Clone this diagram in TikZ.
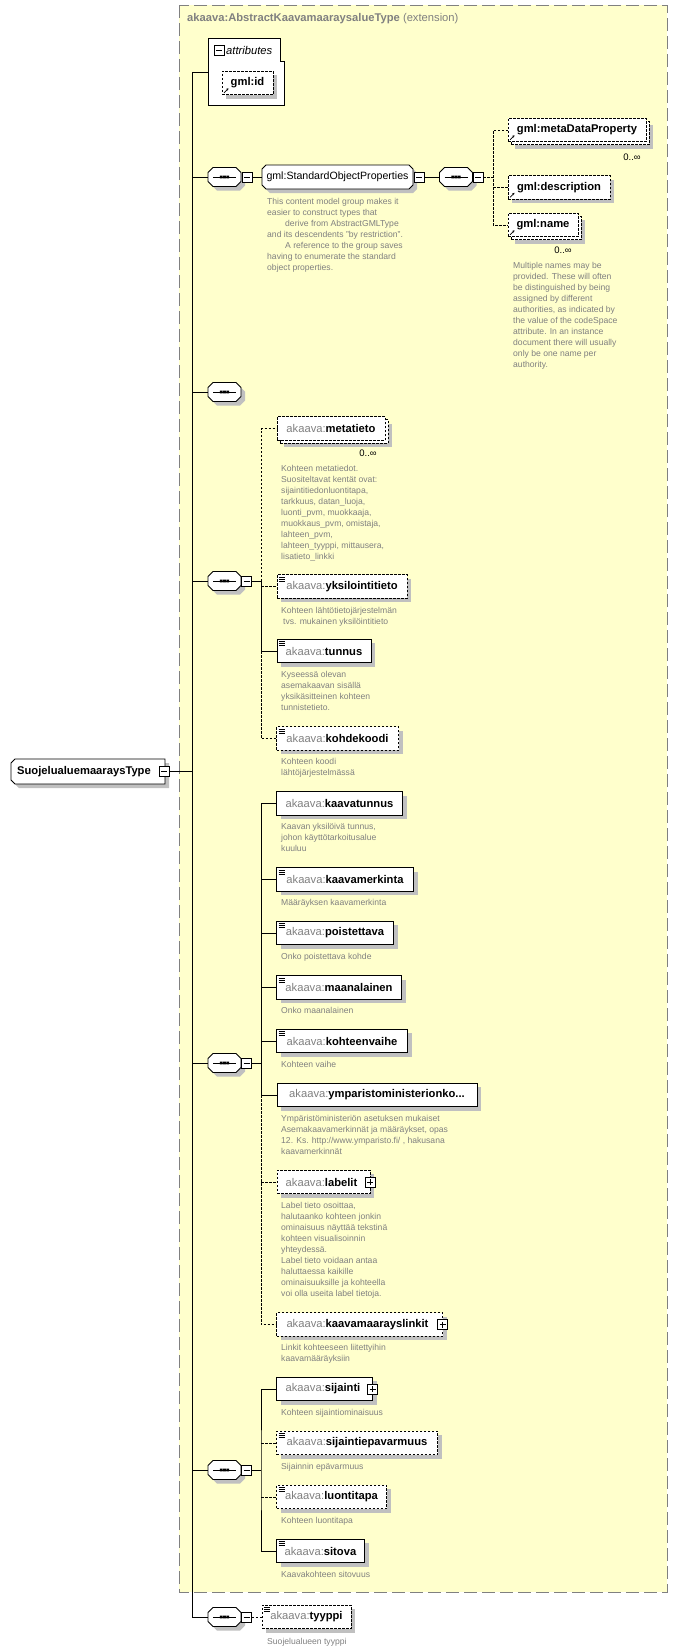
\documentclass[tikz,border=0pt]{standalone}
\usepackage{fontspec}
\setmainfont{Liberation Sans}
\usetikzlibrary{shadows,arrows.meta}

\definecolor{extfill}{RGB}{255,255,204}
\definecolor{extline}{RGB}{128,128,128}
\definecolor{shgray}{RGB}{192,192,192}
\definecolor{pfxgray}{RGB}{128,128,128}
\definecolor{notegray}{RGB}{128,128,128}

\newcommand{\namefont}{\fontsize{11.2}{13}\selectfont}
\newcommand{\notefont}{\fontsize{8.6}{11}\selectfont}
\newcommand{\ak}[1]{\textcolor{pfxgray}{akaava:}\textbf{#1}}

% box with cut corners (left and right cut set apart)
\makeatletter
\newdimen\octL \newdimen\octR \newdimen\octB \newdimen\octT \newdimen\octcl \newdimen\octcr
\pgfkeys{/pgf/oct cut left/.initial=5pt, /pgf/oct cut right/.initial=5pt}
\pgfdeclareshape{octbox}{
  \inheritsavedanchors[from=rectangle]
  \inheritanchorborder[from=rectangle]
  \inheritanchor[from=rectangle]{center}
  \inheritanchor[from=rectangle]{north}
  \inheritanchor[from=rectangle]{south}
  \inheritanchor[from=rectangle]{west}
  \inheritanchor[from=rectangle]{east}
  \inheritanchor[from=rectangle]{north west}
  \inheritanchor[from=rectangle]{north east}
  \inheritanchor[from=rectangle]{south west}
  \inheritanchor[from=rectangle]{south east}
  \inheritanchor[from=rectangle]{base}
  \inheritanchor[from=rectangle]{mid}
  \backgroundpath{
    \pgfmathsetlength\octcl{\pgfkeysvalueof{/pgf/oct cut left}}
    \pgfmathsetlength\octcr{\pgfkeysvalueof{/pgf/oct cut right}}
    \southwest \octL=\pgf@x \octB=\pgf@y
    \northeast \octR=\pgf@x \octT=\pgf@y
    \pgfpathmoveto{\pgfqpoint{\dimexpr\octL+\octcl\relax}{\octB}}
    \pgfpathlineto{\pgfqpoint{\dimexpr\octR-\octcr\relax}{\octB}}
    \pgfpathlineto{\pgfqpoint{\octR}{\dimexpr\octB+\octcr\relax}}
    \pgfpathlineto{\pgfqpoint{\octR}{\dimexpr\octT-\octcr\relax}}
    \pgfpathlineto{\pgfqpoint{\dimexpr\octR-\octcr\relax}{\octT}}
    \pgfpathlineto{\pgfqpoint{\dimexpr\octL+\octcl\relax}{\octT}}
    \pgfpathlineto{\pgfqpoint{\octL}{\dimexpr\octT-\octcl\relax}}
    \pgfpathlineto{\pgfqpoint{\octL}{\dimexpr\octB+\octcl\relax}}
    \pgfpathclose
  }
}
\makeatother

\begin{document}
\begin{tikzpicture}[x=1pt, y=-1pt,
    shd/.style={drop shadow={shadow xshift=4pt, shadow yshift=-4pt, fill=shgray, opacity=1}},
    box/.style={draw, fill=white, line width=0.8pt, minimum height=23.5, inner xsep=2, inner ysep=0, outer sep=0, anchor=west, font=\namefont},
    opt/.style={dash pattern=on 2.5pt off 1.5pt},
    simple/.style={path picture={\draw[solid, line width=0.6pt] foreach \k in {2.5,4.5,6.5} {([shift={(2,\k)}]path picture bounding box.north west) -- ++(6,0)};}},
    ref/.style={path picture={\draw[solid, line width=0.7pt, -{Stealth[length=2.4pt, width=2.4pt]}] ([shift={(2,-2)}]path picture bounding box.south west) -- ++(4.5,-4.5);}},
    octb/.style={shape=octbox, draw, fill=white, line width=0.8pt, outer sep=0, shd},
    seqbox/.style={octb, oct cut left=5pt, oct cut right=5pt, minimum width=33, minimum height=19, inner sep=0,
        path picture={\draw[line width=0.8pt] ([xshift=5pt]path picture bounding box.west) -- ([xshift=-5pt]path picture bounding box.east);
            \fill[black] foreach \k in {-3.2,0,3.2} {([shift={(\k,0)}]path picture bounding box.center) +(-1.4,-1.4) rectangle +(1.4,1.4)};}},
    minus/.style={draw, fill=white, minimum size=10, inner sep=0, line width=0.7pt,
        path picture={\draw ([xshift=2pt]path picture bounding box.west) -- ([xshift=-2pt]path picture bounding box.east);}},
    plus/.style={draw, fill=white, minimum size=10, inner sep=0, line width=0.7pt,
        path picture={\draw ([xshift=2pt]path picture bounding box.west) -- ([xshift=-2pt]path picture bounding box.east);
            \draw ([yshift=2pt]path picture bounding box.south) -- ([yshift=-2pt]path picture bounding box.north);}},
    note/.style={anchor=north west, align=left, inner sep=0, text=notegray, font=\notefont},
    occ/.style={inner sep=0, font=\fontsize{9.5}{11}\selectfont},
    dsh/.style={opt}]

    \useasboundingbox (0,0) rectangle (678,1652);

    % extension
    \draw[extline, fill=extfill, line width=0.8pt, dash pattern=on 13pt off 5pt] (179,5) rectangle (667,1592);
    \node[anchor=west, inner sep=0, font=\namefont, text=pfxgray] (ext) at (187,19) {\textbf{akaava:AbstractKaavamaaraysalueType} (extension)};

    % root
    \node[octb, oct cut left=4pt, oct cut right=0pt, minimum width=154, minimum height=25, inner sep=0, font=\namefont\bfseries] (root) at (88,771.5) {SuojelualuemaaraysType\hspace*{8pt}};
    \node[minus] (rootm) at (164,771.5) {};

    % attributes
    \draw[line width=0.8pt, fill=white] (208,38) -- (280,38) -- (280,61) -- (284,61) -- (284,105) -- (208,105) -- cycle;
    \coordinate (attrw) at (208,72);
    \node[minus] (attrm) at (219,50) {};
    \node[anchor=west, inner sep=0, font=\namefont\itshape] (attrlbl) at (226,50) {attributes};
    \node[box, opt, shd, ref, minimum width=51, font=\namefont\bfseries] (gmlid) at (222,83) {gml:id};

    % sequences
    \node[seqbox] (seq1) at (224.5,177) {};
    \node[minus] (seq1m) at (247,177) {};
    \node[seqbox] (seq2) at (456,177) {};
    \node[minus] (seq2m) at (478,177) {};
    \node[seqbox] (seq3) at (224.5,392) {};
    \node[seqbox] (seq4) at (224.5,581) {};
    \node[minus] (seq4m) at (246.5,581) {};
    \node[seqbox] (seq5) at (224.5,1063) {};
    \node[minus] (seq5m) at (246.5,1063) {};
    \node[seqbox] (seq6) at (224.5,1470) {};
    \node[minus] (seq6m) at (246.5,1470) {};
    \node[seqbox] (seq7) at (224.5,1617) {};
    \node[minus] (seq7m) at (246.5,1617) {};

    \coordinate (spine) at (192,72);
    \coordinate (b2) at (493,177);
    \coordinate (b4) at (261,581);
    \coordinate (b5) at (261,1063);
    \coordinate (b6) at (261,1470);

    % gml group
    \node[octb, oct cut left=4pt, oct cut right=4pt, minimum width=151, minimum height=24, inner sep=0, font=\fontsize{10.6}{12}\selectfont] (sop) at (337.5,177) {gml:StandardObjectProperties};
    \node[minus] (sopm) at (419,177) {};
    \node[note] (sopnote) at (267,198) {This content model group makes it\\easier to construct types that\\\hspace*{18pt}derive from AbstractGMLType\\and its descendents "by restriction".\\\hspace*{18pt}A reference to the group saves\\having to enumerate the standard\\object properties.};

    \node[box, opt, shd, minimum width=138] (mdpbk) at (511,133) {};
    \node[box, opt, ref, minimum width=138, font=\namefont\bfseries] (mdp) at (508,130) {gml:metaDataProperty};
    \node[occ] (mdpocc) at (632,157) {0..∞};
    \node[box, opt, shd, ref, minimum width=102, font=\namefont\bfseries] (desc) at (508,187.5) {gml:description};
    \node[box, opt, shd, minimum width=70] (namebk) at (511,228) {};
    \node[box, opt, ref, minimum width=70, font=\namefont\bfseries] (name) at (508,225) {gml:name};
    \node[occ] (nameocc) at (563,250) {0..∞};
    \node[note] (namenote) at (513,262.5) {Multiple names may be\\provided.  These will often\\be distinguished by being\\assigned by different\\authorities, as indicated by\\the value of the codeSpace\\attribute.  In an instance\\document there will usually\\only be one name per\\authority.};

    % sequence 4
    \node[box, opt, shd, minimum width=108] (metatietobk) at (280,431.5) {};
    \node[box, opt, minimum width=108] (metatieto) at (277,428.5) {\ak{metatieto}};
    \node[occ] (metaocc) at (368,453) {0..∞};
    \node[note] (metanote) at (281,465.5) {Kohteen metatiedot.\\Suositeltavat kentät ovat:\\sijaintitiedonluontitapa,\\tarkkuus, datan\_luoja,\\luonti\_pvm, muokkaaja,\\muokkaus\_pvm, omistaja,\\lahteen\_pvm,\\lahteen\_tyyppi, mittausera,\\lisatieto\_linkki};
    \node[box, opt, shd, simple, minimum width=130] (yksil) at (277,586.5) {\ak{yksilointitieto}};
    \node[note] (yksnote) at (281,607.5) {Kohteen lähtötietojärjestelmän\\\hspace*{2pt}tvs. mukainen yksilöintitieto};
    \node[box, shd, simple, minimum width=94] (tunnus) at (277,651) {\ak{tunnus}};
    \node[note] (tunnusnote) at (281,671.5) {Kyseessä olevan\\asemakaavan sisällä\\yksikäsitteinen kohteen\\tunnistetieto.};
    \node[box, opt, shd, simple, minimum width=122] (kohdekoodi) at (276.5,738.5) {\ak{kohdekoodi}};
    \node[note] (kohdenote) at (281,758.5) {Kohteen koodi\\lähtöjärjestelmässä};

    % sequence 5
    \node[box, shd, minimum width=126] (kaavatunnus) at (276.5,803.5) {\ak{kaavatunnus}};
    \node[note] (kaavatnote) at (281,823.5) {Kaavan yksilöivä tunnus,\\johon käyttötarkoitusalue\\kuuluu};
    \node[box, shd, simple, minimum width=137] (kaavamerkinta) at (276.5,879.5) {\ak{kaavamerkinta}};
    \node[note] (kmerknote) at (281,899.5) {Määräyksen kaavamerkinta};
    \node[box, shd, simple, minimum width=117] (poistettava) at (276.5,933) {\ak{poistettava}};
    \node[note] (poistnote) at (281,953.5) {Onko poistettava kohde};
    \node[box, shd, simple, minimum width=125] (maanalainen) at (276.5,987.5) {\ak{maanalainen}};
    \node[note] (maannote) at (281,1007.5) {Onko maanalainen};
    \node[box, shd, simple, minimum width=131] (kohteenvaihe) at (276.5,1041) {\ak{kohteenvaihe}};
    \node[note] (vaihenote) at (281,1061.5) {Kohteen vaihe};
    \node[box, shd, minimum width=200] (ympariston) at (277,1095) {\ak{ymparistoministerionko...}};
    \node[note] (ympnote) at (281,1115.5) {Ympäristöministeriön asetuksen mukaiset\\Asemakaavamerkinnät ja määräykset, opas\\12. Ks. http://www.ymparisto.fi/ , hakusana\\kaavamerkinnät};
    \node[box, opt, shd, minimum width=93] (labelit) at (277,1182) {\ak{labelit}\hspace*{4pt}};
    \node[plus] (labelitp) at (370,1182) {};
    \node[note] (labelnote) at (281,1202.5) {Label tieto osoittaa,\\halutaanko kohteen jonkin\\ominaisuus näyttää tekstinä\\kohteen visualisoinnin\\yhteydessä.\\Label tieto voidaan antaa\\haluttaessa kaikille\\ominaisuuksille ja kohteella\\voi olla useita label tietoja.};
    \node[box, opt, shd, minimum width=166] (kmlinkit) at (276.5,1324.5) {\ak{kaavamaarayslinkit}\hspace*{4pt}};
    \node[plus] (kmlinkitp) at (442.5,1324.5) {};
    \node[note] (linknote) at (281,1344.5) {Linkit kohteeseen liitettyihin\\kaavamääräyksiin};

    % sequence 6
    \node[box, shd, minimum width=96] (sijainti) at (276.5,1389) {\ak{sijainti}\hspace*{3pt}};
    \node[plus] (sijaintip) at (372.5,1389) {};
    \node[note] (sijnote) at (281,1409.5) {Kohteen sijaintiominaisuus};
    \node[box, opt, shd, simple, minimum width=161] (epavarmuus) at (276.5,1443) {\ak{sijaintiepavarmuus}};
    \node[note] (epavnote) at (281,1463.5) {Sijainnin epävarmuus};
    \node[box, opt, shd, simple, minimum width=110] (luontitapa) at (276.5,1497) {\ak{luontitapa}};
    \node[note] (luontinote) at (281,1517.5) {Kohteen luontitapa};
    \node[box, shd, simple, minimum width=88] (sitova) at (276.5,1551) {\ak{sitova}};
    \node[note] (sitovanote) at (281,1571.5) {Kaavakohteen sitovuus};

    % sequence 7
    \node[box, opt, shd, simple, minimum width=89] (tyyppi) at (262,1617) {\ak{tyyppi}};
    \node[note] (tyyppinote) at (267,1638.5) {Suojelualueen tyyppi};

    % connectors
    \begin{scope}[line width=0.8pt]
        \draw (attrw) -- (spine) |- (seq7.west);
        \draw (rootm.east) -- (spine |- rootm.east);
        \foreach \s in {seq1,seq3,seq4,seq5,seq6}
            \draw (spine |- \s.west) -- (\s.west);
        \draw (seq1m.east) -- (sop.west);
        \draw (sopm.east) -- (seq2.west);
        \draw[dsh] (seq2m.east) -- (b2);
        \draw[dsh] (mdp.west) -| (b2 |- name.west) -- (name.west);
        \draw[dsh] (b2 |- desc.west) -- (desc.west);

        \draw (seq4m.east) -- (b4);
        \draw (b4) |- (tunnus.west);
        \draw[dsh] (b4) |- (metatieto.west);
        \draw[dsh] (b4 |- yksil.west) -- (yksil.west);
        \draw[dsh] (b4 |- tunnus.west) |- (kohdekoodi.west);

        \draw (seq5m.east) -- (b5);
        \draw (kaavatunnus.west) -| (b5 |- ympariston.west) -- (ympariston.west);
        \foreach \e in {kaavamerkinta,poistettava,maanalainen,kohteenvaihe}
            \draw (b5 |- \e.west) -- (\e.west);
        \draw[dsh] (b5 |- ympariston.west) |- (kmlinkit.west);
        \draw[dsh] (b5 |- labelit.west) -- (labelit.west);

        \draw (seq6m.east) -- (b6);
        \draw (sijainti.west) -| (b6) |- (sitova.west);
        \draw[dsh] (b6 |- epavarmuus.west) -- (epavarmuus.west);
        \draw[dsh] (b6 |- luontitapa.west) -- (luontitapa.west);

        \draw[dsh] (seq7m.east) -- (tyyppi.west);
    \end{scope}
\end{tikzpicture}
\end{document}
